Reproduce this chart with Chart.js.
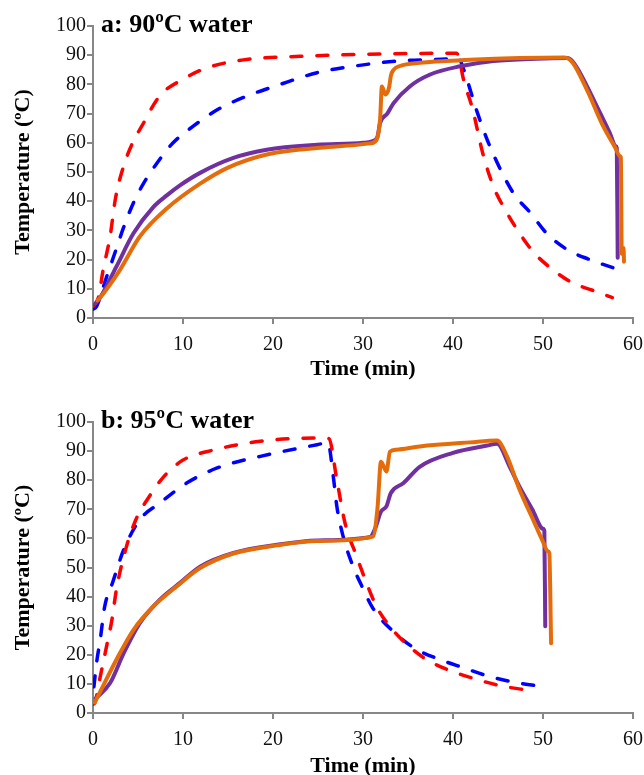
<!DOCTYPE html>
<html>
<head>
<meta charset="utf-8">
<script src="https://cdn.jsdelivr.net/npm/chart.js@4"></script>
<style>
  html, body { margin: 0; padding: 0; background: #fff; overflow: hidden; }
  #wrap { position: relative; width: 644px; height: 775px; }
  canvas { position: absolute; left: 0; }
  #chartA { top: 0; }
  #chartB { top: 390px; }
</style>
</head>
<body>
<div id="wrap">
  <canvas id="chartA" width="644" height="390"></canvas>
  <canvas id="chartB" width="644" height="400"></canvas>
</div>
<script>
// panel titles and axis labels
var titleA = "a: 90ºC water";
var titleB = "b: 95ºC water";
var xLabel = "Time (min)";
var yLabel = "Temperature (ºC)";
var xTicks = [0, 10, 20, 30, 40, 50, 60];
var yTicks = [0, 10, 20, 30, 40, 50, 60, 70, 80, 90, 100];

// a: 90ºC water
var timeRedA = [0, 0.6, 1.1, 1.9, 2.5, 3.4, 4.4, 5.4, 7.4, 9.9, 12.6, 16.7, 23, 30, 36, 40.4, 40.8, 41.1, 42.2, 43.3, 44.5, 46, 47.4, 48.9, 51.1, 53.3, 55.5, 57.7];
var tempRedA = [4, 7, 16, 28, 41, 52, 60, 65.6, 76, 81.6, 85.6, 88.4, 89.6, 90.3, 90.6, 90.7, 87.4, 82.6, 71.3, 56.5, 45, 36, 29, 22.7, 16.5, 12, 9.5, 7];

var timeBlueA = [0, 0.4, 1.5, 2.4, 3.4, 4.5, 5.6, 7.1, 8.9, 11.1, 13.8, 17.1, 20.8, 24.9, 28.9, 33.8, 40, 40.6, 41.2, 42.6, 44.1, 46.7, 48.6, 50.4, 52.7, 55.2, 57.8, 58.8];
var tempBlueA = [3, 4, 14, 22, 31, 39.5, 46, 53, 60, 65.6, 71.3, 76, 80, 84, 86.2, 88, 88.8, 89, 85, 71.3, 58.8, 42.8, 36, 29, 23.4, 20, 17.2, 16.2];

var timePurpleA = [0.3, 0.8, 2.6, 4.5, 6.7, 8.2, 9.7, 11.9, 15.6, 19.3, 24.9, 30, 31, 31.6, 31.9, 32.7, 33.4, 35.2, 37.4, 40.8, 44.5, 49.3, 52.7, 53.3, 54.1, 56, 57.4, 58.1, 58.2, 58.3];
var tempPurpleA = [5, 7, 17.6, 29, 38, 42, 45.5, 49.7, 54.8, 57.6, 59.3, 60, 60.5, 62, 66.8, 70, 73.6, 79.3, 83.3, 86.2, 88, 88.8, 89, 87.8, 84, 72.4, 63.5, 58.8, 58.2, 20.6];

var timeOrangeA = [0.5, 0.8, 3, 5.2, 8.2, 11.9, 15, 19.3, 24.9, 30.8, 31.5, 31.9, 32.1, 32.5, 32.9, 33.1, 33.4, 34.1, 36.3, 41.9, 47.4, 52.4, 53.3, 54.9, 56.7, 58, 58.55, 58.65, 58.75, 58.95, 59];
var tempOrangeA = [6, 7, 16.5, 27.9, 37.5, 46, 51.5, 56, 58.2, 59.8, 61, 68, 79.3, 76.5, 79, 83, 85, 86.3, 87.4, 88.4, 89, 89.2, 87.4, 78, 65.6, 58.5, 55.5, 55, 22, 24, 19.3];

// b: 95ºC water
var timeRedB = [0, 0.2, 0.8, 1.5, 2.1, 2.6, 3.7, 4.9, 6, 7.8, 10, 13.3, 18.6, 24.9, 26.2, 27.1, 28, 29.3, 30.4, 31.5, 33, 34.9, 37.1, 40, 42.7, 45.2, 48.4];
var tempRedB = [3, 3.5, 12.4, 22.8, 32, 42.4, 57, 67.4, 73.2, 81, 86.9, 90.3, 93.4, 94.5, 94.3, 80, 65.3, 53.8, 44.6, 36.6, 29.7, 23.5, 18.3, 14.2, 11.5, 9.4, 7.8];

var timeBlueB = [0.1, 0.4, 0.8, 1.3, 2.2, 3.4, 5.2, 7.4, 10.4, 13.8, 18.6, 24.9, 26.1, 26.7, 27.1, 27.8, 28.9, 29.9, 31.1, 33.8, 36, 38.6, 41.1, 44.1, 47.1, 50.2];
var tempBlueB = [9, 17.3, 25.2, 36.6, 45, 56, 66.4, 72.1, 79, 84.2, 88.2, 92.2, 92.9, 81.3, 70.9, 60.6, 50.3, 43.4, 36, 26.8, 21.8, 18.3, 15.6, 12.5, 10.4, 9];

var timePurpleB = [0.3, 1.9, 3.4, 5.2, 7.4, 9.7, 11.9, 15.6, 20.4, 24.9, 30.8, 31.3, 32, 32.6, 33.1, 34.5, 36.3, 40, 43.8, 44.9, 46.3, 47.4, 48.8, 50, 50.15, 50.25];
var tempPurpleB = [5, 10.3, 20.5, 30.9, 38.9, 44.8, 50.3, 55, 57.8, 59.3, 60.5, 63, 69.2, 71, 75.6, 79, 84.6, 89.4, 91.9, 92.5, 84.6, 77.7, 70, 63.3, 62.5, 29.8];

var timeOrangeB = [0.2, 0.8, 2.6, 4.5, 6.7, 9.3, 11.9, 15.6, 20.4, 24.9, 31.1, 31.6, 32, 32.6, 33, 33.7, 36.3, 41.9, 44.9, 46, 47.4, 48.9, 49.9, 50.55, 50.7, 50.9];
var tempOrangeB = [3.6, 7.3, 18.3, 28.6, 36.6, 43.5, 49.8, 54.8, 57.6, 59.1, 60.6, 70, 86.3, 83, 89.8, 90.5, 91.6, 93, 93.6, 88.2, 76.7, 66.4, 59.5, 55.6, 55, 24];

var gray = "#878787";
var serif = "'Liberation Serif', 'Times New Roman', serif";

function points(times, temps) {
  return times.map(function(t, i) { return {x: t, y: temps[i]}; });
}

function solid(times, temps, color) {
  return {
    data: points(times, temps),
    borderColor: color,
    borderWidth: 4,
    pointRadius: 0,
    cubicInterpolationMode: 'monotone',
    borderJoinStyle: 'round',
    borderCapStyle: 'round',
    fill: false
  };
}

function dashed(times, temps, color) {
  return {
    data: points(times, temps),
    borderColor: color,
    borderWidth: 3.5,
    borderDash: [11, 15],
    borderCapStyle: 'round',
    pointRadius: 0,
    cubicInterpolationMode: 'monotone',
    fill: false
  };
}

// draws the panel title inside the plot, top left
var panelTitle = {
  id: 'panelTitle',
  afterDraw: function(chart, args, opts) {
    var ctx = chart.ctx;
    ctx.save();
    ctx.font = "bold 26px " + serif;
    ctx.fillStyle = "#000";
    ctx.textBaseline = "alphabetic";
    ctx.fillText(opts.text, chart.chartArea.left + 8, chart.chartArea.top + 6);
    ctx.restore();
  }
};

function makeChart(id, title, datasets, padTop, xHeight, xTitlePad) {
  return new Chart(document.getElementById(id), {
    type: 'line',
    data: { datasets: datasets },
    plugins: [panelTitle],
    options: {
      responsive: false,
      animation: false,
      layout: { padding: { top: padTop, right: 11, left: 0, bottom: 0 } },
      plugins: {
        legend: { display: false },
        tooltip: { enabled: false },
        panelTitle: { text: title }
      },
      scales: {
        x: {
          type: 'linear',
          min: xTicks[0],
          max: xTicks[xTicks.length - 1],
          afterFit: function(scale) {
            scale.height = xHeight;
            scale.paddingLeft = 0;
            scale.paddingRight = 0;
          },
          afterBuildTicks: function(scale) {
            scale.ticks = xTicks.map(function(v) { return {value: v}; });
          },
          grid: { display: true, drawOnChartArea: false, drawTicks: true, tickLength: 6, color: gray, lineWidth: 2 },
          border: { display: true, color: gray, width: 2 },
          ticks: { color: "#111", padding: 9, maxRotation: 0, font: { family: serif, size: 20 } },
          title: { display: true, text: xLabel, color: "#000", padding: { top: 0, bottom: xTitlePad }, font: { family: serif, size: 22, weight: 'bold' } }
        },
        y: {
          min: yTicks[0],
          max: yTicks[yTicks.length - 1],
          afterFit: function(scale) { scale.width = 93; },
          afterBuildTicks: function(scale) {
            scale.ticks = yTicks.map(function(v) { return {value: v}; });
          },
          grid: { display: true, drawOnChartArea: false, drawTicks: true, tickLength: 6, color: gray, lineWidth: 2 },
          border: { display: true, color: gray, width: 2 },
          ticks: { color: "#111", padding: 1, font: { family: serif, size: 20 } },
          title: { display: true, text: yLabel, color: "#000", padding: { top: 10, bottom: 0 }, font: { family: serif, size: 22, weight: 'bold' } }
        }
      }
    }
  });
}

makeChart('chartA', titleA, [
  solid(timeOrangeA, tempOrangeA, '#E46C0A'),
  solid(timePurpleA, tempPurpleA, '#7030A0'),
  dashed(timeRedA, tempRedA, '#FF0000'),
  dashed(timeBlueA, tempBlueA, '#0000FF')
], 26, 72, 7);

makeChart('chartB', titleB, [
  solid(timeOrangeB, tempOrangeB, '#E46C0A'),
  solid(timePurpleB, tempPurpleB, '#7030A0'),
  dashed(timeRedB, tempRedB, '#FF0000'),
  dashed(timeBlueB, tempBlueB, '#0000FF')
], 32, 77, 10);
</script>
</body>
</html>
